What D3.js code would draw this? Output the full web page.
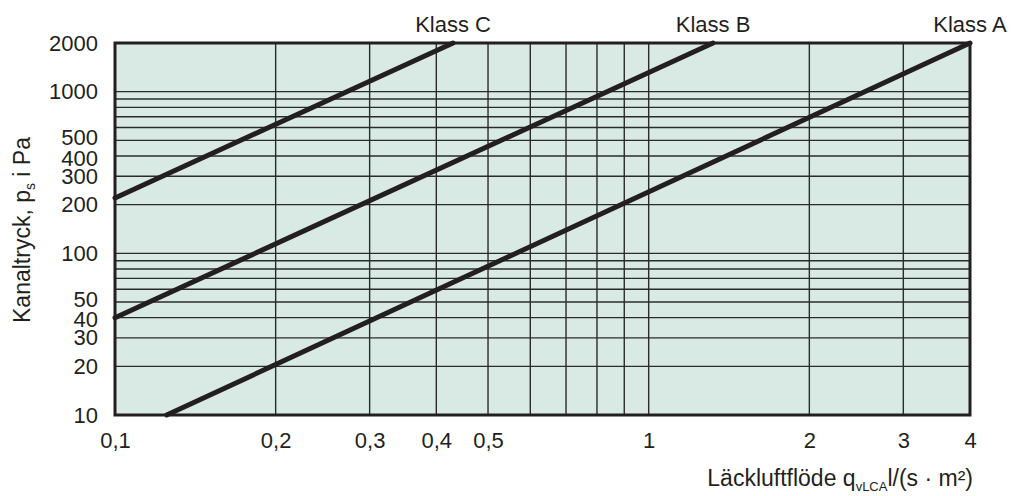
<!DOCTYPE html>
<html lang="sv">
<head>
<meta charset="UTF-8" />
<script src="https://cdnjs.cloudflare.com/ajax/libs/d3/7.8.5/d3.min.js"></script>
<title>Läckluftflöde</title>
<style>
body { margin: 0; background: #fff; }
text { font-family: "Liberation Sans", Arial, Helvetica, sans-serif; fill: #231f20; }
</style>
</head>
<body>
<svg id="chart" width="1013" height="496"></svg>
<script>

// tick labels
const xLabels = [0.1, 0.2, 0.3, 0.4, 0.5, 1, 2, 3, 4];
const yLabels = [10, 20, 30, 40, 50, 100, 200, 300, 400, 500, 1000, 2000];

// grid lines
const xGrid = [0.2, 0.3, 0.4, 0.5, 0.6, 0.7, 0.8, 0.9, 1, 2, 3];
const yGrid = [20, 30, 40, 50, 60, 70, 80, 90, 100, 200, 300, 400, 500, 600, 700, 800, 900, 1000];

// leakage classes, end points
const classNames = ['Klass A', 'Klass B', 'Klass C'];
const classFlow = [[0.125, 4], [0.1, 1.32], [0.1, 0.43]];
const classPressure = [[10, 2000], [40, 2000], [220, 2000]];

const margin = { top: 43, right: 43, bottom: 81, left: 115 };
const width = 1013 - margin.left - margin.right;
const height = 496 - margin.top - margin.bottom;
const ink = '#231f20';

const svg = d3.select('#chart');
const g = svg.append('g').attr('transform', `translate(${margin.left},${margin.top})`);

const x = d3.scaleLog().domain([0.1, 4]).range([0, width]);
const y = d3.scaleLog().domain([10, 2000]).range([height, 0]);

g.append('rect')
  .attr('width', width)
  .attr('height', height)
  .attr('fill', '#d9eae4');

g.selectAll('.vgrid').data(xGrid).join('line')
  .attr('class', 'vgrid')
  .attr('x1', d => x(d)).attr('x2', d => x(d))
  .attr('y1', 0).attr('y2', height)
  .attr('stroke', '#2b2b2b')
  .attr('stroke-width', 1.4);

g.selectAll('.hgrid').data(yGrid).join('line')
  .attr('class', 'hgrid')
  .attr('x1', 0).attr('x2', width)
  .attr('y1', d => y(d)).attr('y2', d => y(d))
  .attr('stroke', '#2b2b2b')
  .attr('stroke-width', 1.4);

const line = d3.line().x(d => x(d[0])).y(d => y(d[1]));

classNames.forEach((name, i) => {
  const pts = classFlow[i].map((q, j) => [q, classPressure[i][j]]);
  g.append('path')
    .attr('d', line(pts))
    .attr('fill', 'none')
    .attr('stroke', ink)
    .attr('stroke-width', 5)
    .attr('stroke-linecap', 'round');
  g.append('text')
    .attr('x', x(pts[1][0]))
    .attr('y', -11)
    .attr('text-anchor', 'middle')
    .style('font-size', '22px')
    .text(name);
});

g.append('rect')
  .attr('width', width)
  .attr('height', height)
  .attr('fill', 'none')
  .attr('stroke', ink)
  .attr('stroke-width', 3);

const fmt = d => String(d).replace('.', ',');

const xAxis = g.append('g')
  .attr('transform', `translate(0,${height})`)
  .call(d3.axisBottom(x).tickValues(xLabels).tickFormat(fmt).tickSize(0).tickPadding(17));
const yAxis = g.append('g')
  .call(d3.axisLeft(y).tickValues(yLabels).tickFormat(fmt).tickSize(0).tickPadding(17));

[xAxis, yAxis].forEach(a => {
  a.select('.domain').remove();
  a.selectAll('text')
    .style('font-size', '22px')
    .style('font-family', '"Liberation Sans", Arial, Helvetica, sans-serif')
    .attr('fill', ink);
});

// 500/400 and 50/40 sit tight, spread them a bit like the original
yAxis.selectAll('.tick text')
  .attr('y', d => (d === 500 || d === 50) ? -3 : (d === 400 || d === 40) ? 2 : 0);

// axis titles
const yTitle = svg.append('text')
  .attr('transform', 'translate(30,230) rotate(-90)')
  .attr('text-anchor', 'middle')
  .style('font-size', '23px');
yTitle.append('tspan').text('Kanaltryck, p');
yTitle.append('tspan').attr('dy', 5).style('font-size', '14px').text('s');
yTitle.append('tspan').attr('dy', -5).text(' i Pa');

const xTitle = svg.append('text')
  .attr('x', margin.left + width + 3)
  .attr('y', 486)
  .attr('text-anchor', 'end')
  .style('font-size', '23px');
xTitle.append('tspan').text('Läckluftflöde q');
xTitle.append('tspan').attr('dy', 5).style('font-size', '13px').text('vLCA');
xTitle.append('tspan').attr('dy', -5).text('l/(s · m²)');

</script>
</body>
</html>
